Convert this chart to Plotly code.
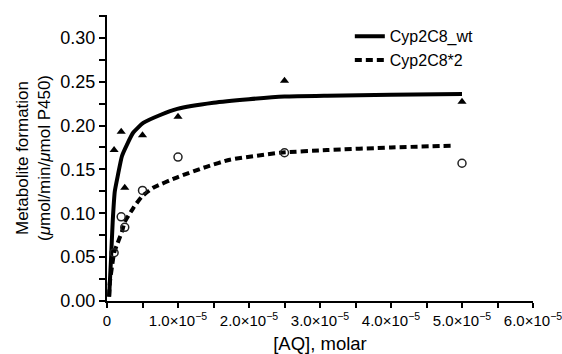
import plotly.graph_objects as go

# Measured data points (x in molar)
conc = [0.1e-5, 0.2e-5, 0.25e-5, 0.5e-5, 1.0e-5, 2.5e-5, 5.0e-5]
wt_vals = [0.172, 0.193, 0.129, 0.189, 0.210, 0.251, 0.227]
mut_vals = [0.055, 0.096, 0.084, 0.126, 0.164, 0.169, 0.157]

# Fitted curves
wt_fit_x = [0.03e-5, 0.056e-5, 0.08e-5, 0.11e-5, 0.155e-5, 0.21e-5, 0.28e-5, 0.37e-5, 0.51e-5,
            0.75e-5, 0.99e-5, 1.5e-5, 2.0e-5, 2.5e-5, 3.1e-5, 4.0e-5, 5.0e-5]
wt_fit_y = [0.005, 0.047, 0.090, 0.125, 0.144, 0.165, 0.178, 0.192, 0.203,
            0.212, 0.219, 0.226, 0.230, 0.233, 0.234, 0.235, 0.236]
mut_fit_x = [0.03e-5, 0.04e-5, 0.07e-5, 0.10e-5, 0.14e-5, 0.21e-5, 0.25e-5, 0.37e-5, 0.49e-5,
             0.65e-5, 0.99e-5, 1.4e-5, 1.73e-5, 2.44e-5, 3.1e-5, 4.0e-5, 4.86e-5]
mut_fit_y = [0.005, 0.021, 0.039, 0.055, 0.064, 0.079, 0.090, 0.106, 0.119,
             0.129, 0.141, 0.153, 0.161, 0.169, 0.172, 0.175, 0.177]

x_tickvals = [0, 1e-5, 2e-5, 3e-5, 4e-5, 5e-5, 6e-5]
x_ticktext = ["0", "1.0×10<sup>−5</sup>", "2.0×10<sup>−5</sup>", "3.0×10<sup>−5</sup>",
              "4.0×10<sup>−5</sup>", "5.0×10<sup>−5</sup>", "6.0×10<sup>−5</sup>"]
y_tickvals = [0.0, 0.05, 0.10, 0.15, 0.20, 0.25, 0.30]
y_ticktext = ["0.00", "0.05", "0.10", "0.15", "0.20", "0.25", "0.30"]

FONT = "Liberation Sans, Arial, sans-serif"

fig = go.Figure()
fig.add_trace(go.Scatter(x=wt_fit_x, y=wt_fit_y, mode="lines", name="Cyp2C8_wt",
                         line=dict(color="black", width=4, shape="spline", smoothing=0.5)))
fig.add_trace(go.Scatter(x=mut_fit_x, y=mut_fit_y, mode="lines", name="Cyp2C8*2",
                         line=dict(color="black", width=4, dash="7px,4px", shape="spline", smoothing=0.5)))
fig.add_trace(go.Scatter(x=conc, y=wt_vals, mode="markers", showlegend=False,
                         marker=dict(symbol="triangle-up", size=8, color="black")))
fig.add_trace(go.Scatter(x=conc, y=mut_vals, mode="markers", showlegend=False,
                         marker=dict(symbol="circle-open", size=8, color="#222",
                                     line=dict(width=1.5, color="#222"))))

fig.update_layout(
    width=562, height=354,
    margin=dict(l=107, r=29, t=15, b=53),
    paper_bgcolor="white", plot_bgcolor="white",
    font=dict(family=FONT, size=17, color="black"),
    legend=dict(x=0.57, y=0.985, xanchor="left", yanchor="top",
                font=dict(size=16), bgcolor="rgba(0,0,0,0)", tracegroupgap=0),
    xaxis=dict(range=[0, 6.0e-5], tickvals=x_tickvals, ticktext=x_ticktext, automargin=False,
               showline=True, linecolor="black", linewidth=2, showgrid=False, zeroline=False,
               ticks="outside", ticklen=5, tickwidth=2, tickcolor="black",
               tickfont=dict(size=15), ticklabeloverflow="allow",
               minor=dict(dtick=0.5e-5, tick0=0, ticks="outside", ticklen=5, tickwidth=2, tickcolor="black"),
               title=dict(text="[AQ], molar", font=dict(size=18.5), standoff=10)),
    yaxis=dict(range=[0, 0.326], tickvals=y_tickvals, ticktext=y_ticktext, automargin=False,
               showline=True, linecolor="black", linewidth=2, showgrid=False, zeroline=False,
               ticks="outside", ticklen=6, tickwidth=2, tickcolor="black",
               tickfont=dict(size=18),
               minor=dict(dtick=0.025, tick0=0, ticks="outside", ticklen=6, tickwidth=2, tickcolor="black"),
               title=dict(text="Metabolite formation<br>(<i>μ</i>mol/min/<i>μ</i>mol P450)",
                          font=dict(size=17), standoff=5)),
)

fig.write_html("out.html", post_script="document.body.style.margin='0';",
               config={"displayModeBar": False})
